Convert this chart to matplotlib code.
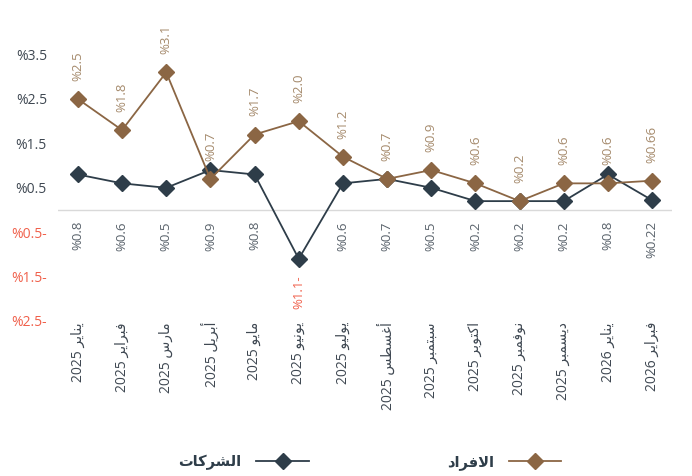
import matplotlib
matplotlib.use("Agg")
import matplotlib.pyplot as plt
import matplotlib.transforms as mtransforms


# ==========================================
# Data
# ==========================================

MONTHS = ["يناير 2025", "فبراير 2025", "مارس 2025", "أبريل 2025", "مايو 2025",
          "يونيو 2025", "يوليو 2025", "أغسطس 2025", "سبتمبر 2025", "اكتوبر 2025",
          "نوفمبر 2025", "ديسمبر 2025", "يناير 2026", "فبراير 2026"]

COMPANIES = [0.8, 0.6, 0.5, 0.9, 0.8, -1.1, 0.6, 0.7, 0.5, 0.2, 0.2, 0.2, 0.8, 0.22]
INDIVIDUALS = [2.5, 1.8, 3.1, 0.7, 1.7, 2.0, 1.2, 0.7, 0.9, 0.6, 0.2, 0.6, 0.6, 0.66]

COMPANIES_NAME = "الشركات"
INDIVIDUALS_NAME = "الافراد"

Y_TICKS = [3.5, 2.5, 1.5, 0.5, -0.5, -1.5, -2.5]


# ==========================================
# Colors / fonts
# ==========================================

COMPANY_COLOR = "#2e3d49"
INDIVIDUAL_COLOR = "#8b6644"
INDIVIDUAL_LABEL_COLOR = "#a58a6c"
COMPANY_LABEL_COLOR = "#59626b"
NEG_COLOR = "#f0604b"
TICK_COLOR = "#3f4852"
BASELINE_COLOR = "#d9d9d9"

FONTS = ["Open Sans", "DejaVu Sans"]


# ==========================================
# Minimal Arabic shaping (matplotlib has no bidi / joining)
# ==========================================

# letter: (isolated, final, initial, medial)
FORMS = {
    "ا": (0xFE8D, 0xFE8E, None, None),
    "أ": (0xFE83, 0xFE84, None, None),
    "إ": (0xFE87, 0xFE88, None, None),
    "آ": (0xFE81, 0xFE82, None, None),
    "ب": (0xFE8F, 0xFE90, 0xFE91, 0xFE92),
    "ت": (0xFE95, 0xFE96, 0xFE97, 0xFE98),
    "ث": (0xFE99, 0xFE9A, 0xFE9B, 0xFE9C),
    "ج": (0xFE9D, 0xFE9E, 0xFE9F, 0xFEA0),
    "ح": (0xFEA1, 0xFEA2, 0xFEA3, 0xFEA4),
    "خ": (0xFEA5, 0xFEA6, 0xFEA7, 0xFEA8),
    "د": (0xFEA9, 0xFEAA, None, None),
    "ذ": (0xFEAB, 0xFEAC, None, None),
    "ر": (0xFEAD, 0xFEAE, None, None),
    "ز": (0xFEAF, 0xFEB0, None, None),
    "س": (0xFEB1, 0xFEB2, 0xFEB3, 0xFEB4),
    "ش": (0xFEB5, 0xFEB6, 0xFEB7, 0xFEB8),
    "ص": (0xFEB9, 0xFEBA, 0xFEBB, 0xFEBC),
    "ض": (0xFEBD, 0xFEBE, 0xFEBF, 0xFEC0),
    "ط": (0xFEC1, 0xFEC2, 0xFEC3, 0xFEC4),
    "ظ": (0xFEC5, 0xFEC6, 0xFEC7, 0xFEC8),
    "ع": (0xFEC9, 0xFECA, 0xFECB, 0xFECC),
    "غ": (0xFECD, 0xFECE, 0xFECF, 0xFED0),
    "ف": (0xFED1, 0xFED2, 0xFED3, 0xFED4),
    "ق": (0xFED5, 0xFED6, 0xFED7, 0xFED8),
    "ك": (0xFED9, 0xFEDA, 0xFEDB, 0xFEDC),
    "ل": (0xFEDD, 0xFEDE, 0xFEDF, 0xFEE0),
    "م": (0xFEE1, 0xFEE2, 0xFEE3, 0xFEE4),
    "ن": (0xFEE5, 0xFEE6, 0xFEE7, 0xFEE8),
    "ه": (0xFEE9, 0xFEEA, 0xFEEB, 0xFEEC),
    "و": (0xFEED, 0xFEEE, None, None),
    "ي": (0xFEF1, 0xFEF2, 0xFEF3, 0xFEF4),
    "ة": (0xFE93, 0xFE94, None, None),
    "ى": (0xFEEF, 0xFEF0, None, None),
}

LAM_ALEF = {"ا": (0xFEFB, 0xFEFC), "أ": (0xFEF7, 0xFEF8),
            "إ": (0xFEF9, 0xFEFA), "آ": (0xFEF5, 0xFEF6)}


def joins_next(ch):
    return ch in FORMS and FORMS[ch][2] is not None


def shape_word(word):
    out = []
    i = 0
    n = len(word)
    while i < n:
        ch = word[i]
        prev_joins = i > 0 and joins_next(word[i - 1]) and ch in FORMS
        if ch == "ل" and i + 1 < n and word[i + 1] in LAM_ALEF:
            iso, fin = LAM_ALEF[word[i + 1]]
            out.append(chr(fin if prev_joins else iso))
            i += 2
            continue
        if ch not in FORMS:
            out.append(ch)
            i += 1
            continue
        next_joins = joins_next(ch) and i + 1 < n and word[i + 1] in FORMS
        iso, fin, ini, med = FORMS[ch]
        if prev_joins and next_joins:
            code = med
        elif prev_joins:
            code = fin
        elif next_joins:
            code = ini
        else:
            code = iso
        out.append(chr(code))
        i += 1
    return "".join(reversed(out))


def visual(text):
    tokens = []
    for tok in text.split(" "):
        if any(c in FORMS for c in tok):
            tokens.append(shape_word(tok))
        else:
            tokens.append(tok)
    return " ".join(reversed(tokens))


def pct(v):
    if v < 0:
        return f"%{abs(v)}-"
    return f"%{v}"


# ==========================================
# Plot
# ==========================================

plt.rcParams["font.family"] = FONTS

fig = plt.figure(figsize=(6.92, 4.76), dpi=100)

W, H = 692, 476
ax_left, ax_right = 58, 672
ax_top, ax_bottom = 30, 330
ax = fig.add_axes([ax_left / W, (H - ax_bottom) / H,
                   (ax_right - ax_left) / W, (ax_bottom - ax_top) / H])

x = list(range(len(MONTHS)))

ax.set_xlim(-0.45, len(MONTHS) - 0.55)
ax.set_ylim(-120 / 44.4, 180 / 44.4)

ax.axhline(0, color=BASELINE_COLOR, lw=1.0, zorder=1)

comp_line, = ax.plot(x, COMPANIES, color=COMPANY_COLOR, lw=1.3, marker="D",
                     markersize=8, zorder=3)
ind_line, = ax.plot(x, INDIVIDUALS, color=INDIVIDUAL_COLOR, lw=1.3, marker="D",
                    markersize=8, zorder=3)

# value labels - individuals above their points
for xi, v in zip(x, INDIVIDUALS):
    ax.annotate(pct(v), (xi, v), xytext=(0, 13), textcoords="offset points",
                rotation=90, ha="center", va="bottom", fontsize=9.5,
                color=INDIVIDUAL_LABEL_COLOR)

# value labels - companies under the zero line (or under the point if negative)
for xi, v in zip(x, COMPANIES):
    if v < 0:
        ax.annotate(pct(v), (xi, v), xytext=(0, -12), textcoords="offset points",
                    rotation=90, ha="center", va="top", fontsize=9.5,
                    color=NEG_COLOR)
    else:
        ax.annotate(pct(v), (xi, 0), xytext=(0, -8), textcoords="offset points",
                    rotation=90, ha="center", va="top", fontsize=9.5,
                    color=COMPANY_LABEL_COLOR)

# month labels
trans = mtransforms.blended_transform_factory(ax.transData, ax.transAxes)
for xi, m in zip(x, MONTHS):
    ax.text(xi, 8 / 300, visual(m), transform=trans, rotation=90,
            ha="center", va="top", fontsize=10, color=TICK_COLOR)

# y axis
ax.set_xticks([])
ax.set_yticks(Y_TICKS)
ax.set_yticklabels([pct(t) for t in Y_TICKS], fontsize=10)
for lbl, t in zip(ax.get_yticklabels(), Y_TICKS):
    lbl.set_color(NEG_COLOR if t < 0 else TICK_COLOR)
ax.tick_params(axis="y", length=0, pad=8)
for s in ax.spines.values():
    s.set_visible(False)

# legend (right-to-left: text then line)
ax.legend([comp_line, ind_line],
          [visual(COMPANIES_NAME), visual(INDIVIDUALS_NAME)],
          ncol=2, markerfirst=False, frameon=False,
          loc="center", bbox_to_anchor=(370 / W, (H - 462) / H),
          bbox_transform=fig.transFigure,
          handlelength=3.6, handletextpad=1.0, columnspacing=9.5,
          prop={"weight": "bold", "size": 10.5},
          labelcolor=COMPANY_COLOR)

fig.savefig("out.png", dpi=100)
